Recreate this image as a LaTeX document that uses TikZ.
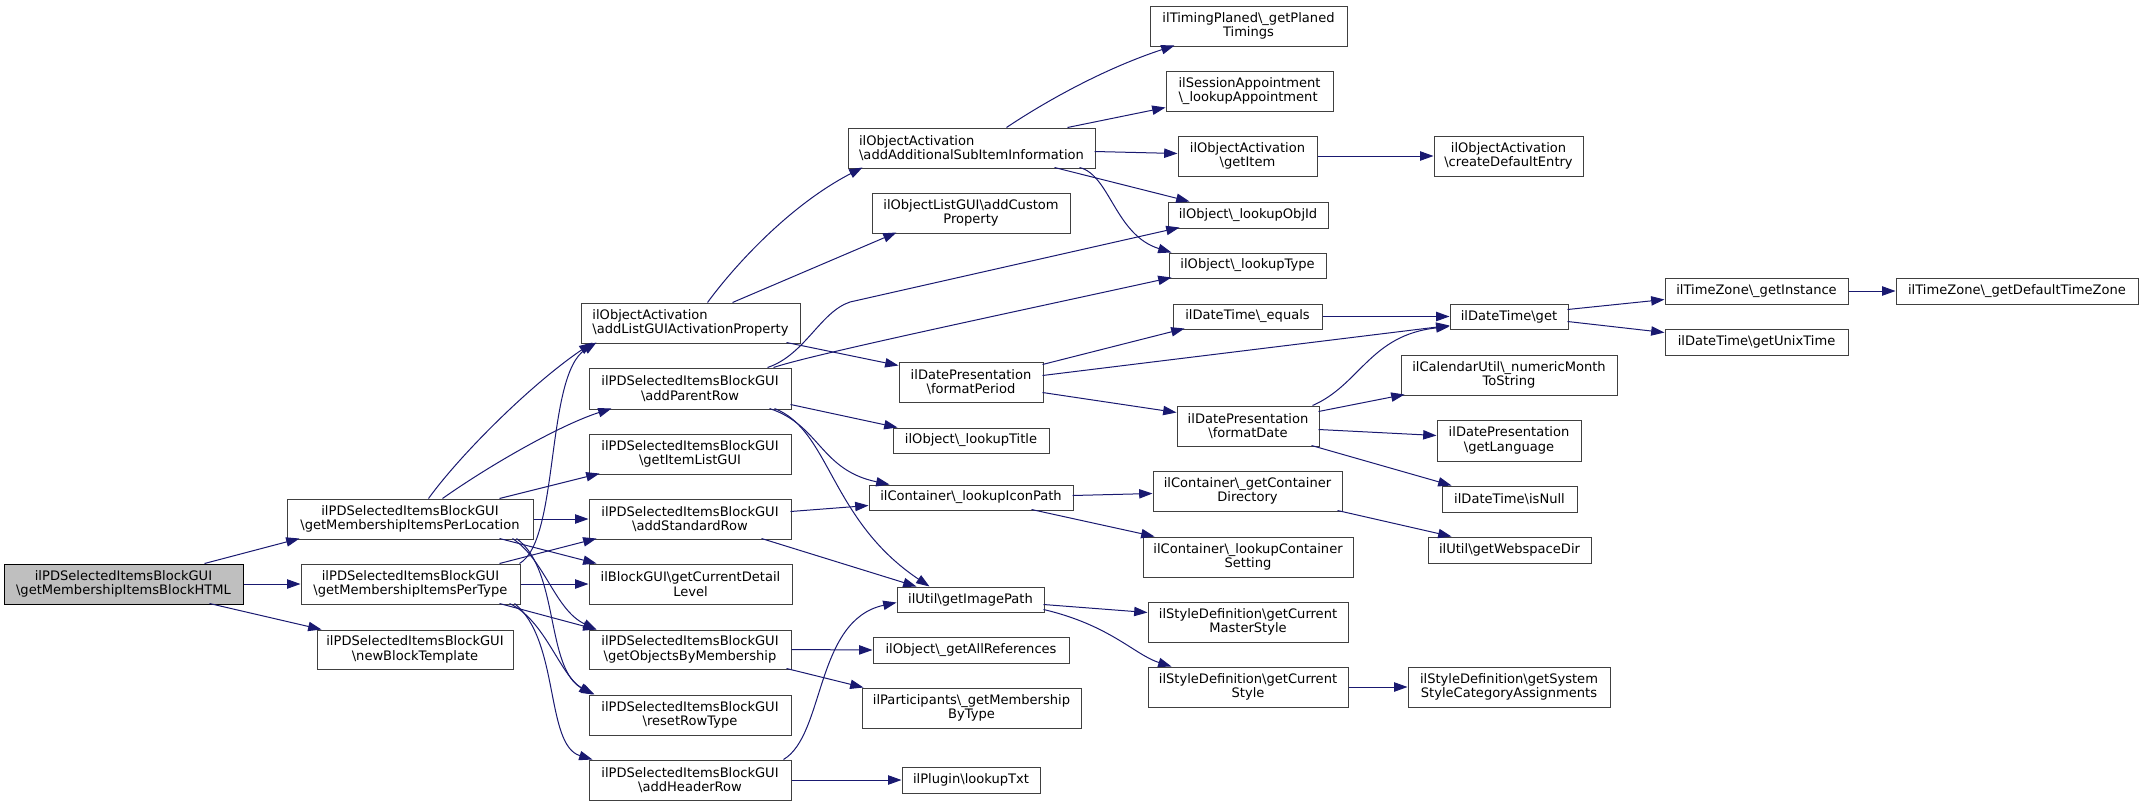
\documentclass[tikz,border=0pt]{standalone}
\usepackage{fontspec}
\setmainfont{DejaVu Sans}
\usetikzlibrary{arrows.meta,calc}
\definecolor{mblue}{HTML}{191970}
\definecolor{bord}{HTML}{404040}
\definecolor{rootfill}{HTML}{BFBFBF}
\newcommand{\bsl}{\textbackslash}
\newcommand{\bx}[7][]{\node[box,#1,minimum width={(#5-#3)*0.75pt},minimum height={(#6-#4)*0.75pt}] (#2) at ({(#3+#5)/2},{(#4+#6)/2}) {#7};}
\begin{document}
\begin{tikzpicture}[x=0.75pt,y=-0.75pt,
  box/.style={draw=bord,line width=0.75pt,inner sep=0pt,align=center,font=\fontsize{9.8}{10.8}\selectfont},
  lbox/.style={align=left},
  cl/.style={draw=mblue,line width=0.75pt,-{Triangle[length=10pt,width=7pt]}}]
\useasboundingbox (0,0) rectangle (2144,807);
% column 1
\bx[fill=rootfill,draw=black]{root}{4}{564}{243}{604}{ilPDSelectedItemsBlockGUI\\\bsl getMembershipItemsBlockHTML}
\bx{loc}{287}{499}{533}{539}{ilPDSelectedItemsBlockGUI\\\bsl getMembershipItemsPerLocation}
\bx{type}{301}{564}{520}{604}{ilPDSelectedItemsBlockGUI\\\bsl getMembershipItemsPerType}
\bx{nbt}{317}{630}{513}{669}{ilPDSelectedItemsBlockGUI\\\bsl newBlockTemplate}
% column 2
\bx[lbox]{alist}{581}{303}{800}{343}{ilObjectActivation\\\bsl addListGUIActivationProperty}
\bx{apr}{589}{368}{791}{409}{ilPDSelectedItemsBlockGUI\\\bsl addParentRow}
\bx{gil}{589}{434}{791}{474}{ilPDSelectedItemsBlockGUI\\\bsl getItemListGUI}
\bx{asr}{589}{499}{791}{539}{ilPDSelectedItemsBlockGUI\\\bsl addStandardRow}
\bx{gcd}{589}{564}{792}{604}{ilBlockGUI\bsl getCurrentDetail\\Level}
\bx{gobm}{589}{630}{791}{669}{ilPDSelectedItemsBlockGUI\\\bsl getObjectsByMembership}
\bx{rrt}{589}{695}{791}{735}{ilPDSelectedItemsBlockGUI\\\bsl resetRowType}
\bx{ahr}{589}{760}{791}{800}{ilPDSelectedItemsBlockGUI\\\bsl addHeaderRow}
% column 3
\bx[lbox]{aasi}{848}{128}{1095}{168}{ilObjectActivation\\\bsl addAdditionalSubItemInformation}
\bx{acp}{872}{193}{1070}{233}{ilObjectListGUI\bsl addCustom\\Property}
\bx{fp}{899}{362}{1043}{402}{ilDatePresentation\\\bsl formatPeriod}
\bx{ltitle}{893}{428}{1049}{453}{ilObject\bsl\_lookupTitle}
\bx{lip}{869}{485}{1073}{510}{ilContainer\bsl\_lookupIconPath}
\bx{gip}{897}{587}{1044}{612}{ilUtil\bsl getImagePath}
\bx{gar}{873}{637}{1069}{663}{ilObject\bsl\_getAllReferences}
\bx{gmbt}{862}{688}{1081}{728}{ilParticipants\bsl\_getMembership\\ByType}
\bx{ltxt}{902}{767}{1040}{793}{ilPlugin\bsl lookupTxt}
% column 4
\bx{tp}{1150}{6}{1347}{46}{ilTimingPlaned\bsl\_getPlaned\\Timings}
\bx[lbox]{sa}{1166}{71}{1333}{111}{ilSessionAppointment\\\bsl\_lookupAppointment}
\bx{gi}{1178}{136}{1317}{176}{ilObjectActivation\\\bsl getItem}
\bx{loid}{1168}{202}{1328}{228}{ilObject\bsl\_lookupObjId}
\bx{ltype}{1169}{253}{1326}{278}{ilObject\bsl\_lookupType}
\bx{eq}{1173}{304}{1322}{329}{ilDateTime\bsl\_equals}
\bx{fd}{1177}{406}{1319}{446}{ilDatePresentation\\\bsl formatDate}
\bx{gcdir}{1153}{471}{1342}{511}{ilContainer\bsl\_getContainer\\Directory}
\bx{lcs}{1143}{537}{1353}{577}{ilContainer\bsl\_lookupContainer\\Setting}
\bx{gcms}{1148}{602}{1348}{642}{ilStyleDefinition\bsl getCurrent\\MasterStyle}
\bx{gcs}{1148}{667}{1348}{707}{ilStyleDefinition\bsl getCurrent\\Style}
% column 5
\bx{cde}{1434}{136}{1583}{176}{ilObjectActivation\\\bsl createDefaultEntry}
\bx{dtget}{1450}{304}{1568}{329}{ilDateTime\bsl get}
\bx{nmts}{1401}{355}{1617}{395}{ilCalendarUtil\bsl\_numericMonth\\ToString}
\bx{glang}{1437}{420}{1581}{461}{ilDatePresentation\\\bsl getLanguage}
\bx{isnull}{1442}{486}{1577}{512}{ilDateTime\bsl isNull}
\bx{gwsd}{1428}{537}{1591}{563}{ilUtil\bsl getWebspaceDir}
\bx{gssca}{1408}{667}{1610}{707}{ilStyleDefinition\bsl getSystem\\StyleCategoryAssignments}
% column 6-7
\bx{ginst}{1665}{278}{1848}{304}{ilTimeZone\bsl\_getInstance}
\bx{gut}{1665}{329}{1848}{355}{ilDateTime\bsl getUnixTime}
\bx{gdtz}{1896}{278}{2138}{304}{ilTimeZone\bsl\_getDefaultTimeZone}
% edges from root
\draw[cl] ($(root.north west)+(201,0)$) -- ($(loc.north west)+(13,40)$);
\draw[cl] (root.east) -- (type.west);
\draw[cl] ($(root.north west)+(206,40)$) -- ($(nbt.north west)+(5,0)$);
% edges from loc
\draw[cl] ($(loc.north west)+(142,0)$) .. controls (460,455) and (530,385) .. ($(alist.north west)+(12,40)$);
\draw[cl] ($(loc.north west)+(156,0)$) .. controls (490,465) and (560,425) .. ($(apr.north west)+(23,41)$);
\draw[cl] ($(loc.north west)+(213,0)$) -- ($(gil.north west)+(11,40)$);
\draw[cl] (loc.east) -- (asr.west);
\draw[cl] ($(loc.north west)+(213,40)$) -- ($(gcd.north west)+(8,0)$);
\draw[cl] ($(loc.north west)+(226,40)$) .. controls (545,560) and (555,610) .. ($(gobm.north west)+(8,0)$);
\draw[cl] ($(loc.north west)+(230,40)$) .. controls (560,570) and (545,670) .. ($(rrt.north west)+(6,0)$);
% edges from type
\draw[cl] ($(type.north west)+(219,0)$) .. controls (560,540) and (545,375) .. ($(alist.north west)+(16,40)$);
\draw[cl] ($(type.north west)+(199,0)$) -- ($(asr.north west)+(8,40)$);
\draw[cl] (type.east) -- (gcd.west);
\draw[cl] ($(type.north west)+(199,40)$) -- ($(gobm.north west)+(8,0)$);
\draw[cl] ($(type.north west)+(209,40)$) .. controls (545,620) and (560,675) .. ($(rrt.north west)+(4,0)$);
\draw[cl] ($(type.north west)+(214,40)$) .. controls (560,640) and (545,745) .. ($(ahr.north west)+(4,0)$);
% edges from alist
\draw[cl] ($(alist.north west)+(127,0)$) .. controls (735,265) and (790,205) .. ($(aasi.north west)+(15,40)$);
\draw[cl] ($(alist.north west)+(152,0)$) -- ($(acp.north west)+(25,40)$);
\draw[cl] ($(alist.north west)+(206,40)$) -- ($(fp.north west)+(0,4)$);
% edges from apr
\draw[cl] ($(apr.north west)+(179,0)$) .. controls (805,355) and (820,312) .. (850,302) -- ($(loid.north west)+(12,26)$);
\draw[cl] ($(apr.north west)+(185,0)$) .. controls (810,355) and (1000,315) .. ($(ltype.north west)+(3,25)$);
\draw[cl] ($(apr.north west)+(202,37)$) -- ($(ltitle.north west)+(5,0)$);
\draw[cl] ($(apr.north west)+(181,41)$) .. controls (820,425) and (820,470) .. ($(lip.north west)+(21,0)$);
\draw[cl] ($(apr.north west)+(186,41)$) .. controls (830,430) and (830,520) .. ($(gip.north west)+(33,0)$);
% edges from asr
\draw[cl] ($(asr.north west)+(202,13)$) -- ($(lip.north west)+(0,21)$);
\draw[cl] ($(asr.north west)+(173,40)$) -- ($(gip.north west)+(20,0)$);
% edges from gobm, ahr
\draw[cl] (gobm.east) -- (gar.west);
\draw[cl] ($(gobm.north west)+(198,39)$) -- ($(gmbt.north west)+(2,0)$);
\draw[cl] ($(ahr.north west)+(195,0)$) .. controls (825,735) and (815,620) .. ($(gip.north west)+(0,16)$);
\draw[cl] (ahr.east) -- (ltxt.west);
% edges from aasi
\draw[cl] ($(aasi.north west)+(159,0)$) .. controls (1040,105) and (1100,70) .. ($(tp.north west)+(25,40)$);
\draw[cl] ($(aasi.north west)+(220,0)$) -- ($(sa.north west)+(0,37)$);
\draw[cl] ($(aasi.north west)+(247,24)$) -- ($(gi.north west)+(0,18)$);
\draw[cl] ($(aasi.north west)+(207,40)$) -- ($(loid.north west)+(22,0)$);
\draw[cl] ($(aasi.north west)+(232,40)$) .. controls (1110,175) and (1115,235) .. ($(ltype.north west)+(3,0)$);
\draw[cl] (gi.east) -- (cde.west);
% edges from fp, eq, fd
\draw[cl] ($(fp.north west)+(144,3)$) -- ($(eq.north west)+(12,25)$);
\draw[cl] ($(fp.north west)+(144,14)$) -- ($(dtget.north west)+(0,22)$);
\draw[cl] ($(fp.north west)+(144,31)$) -- ($(fd.north west)+(0,7)$);
\draw[cl] (eq.east) -- (dtget.west);
\draw[cl] ($(fd.north west)+(136,0)$) .. controls (1360,385) and (1370,335) .. ($(dtget.north west)+(0,23)$);
\draw[cl] ($(fd.north west)+(142,6)$) -- ($(nmts.north west)+(4,40)$);
\draw[cl] ($(fd.north west)+(142,24)$) -- ($(glang.north west)+(0,16)$);
\draw[cl] ($(fd.north west)+(135,40)$) -- ($(isnull.north west)+(10,0)$);
% edges from dtget, ginst
\draw[cl] ($(dtget.north west)+(118,6)$) -- ($(ginst.north west)+(0,22)$);
\draw[cl] ($(dtget.north west)+(118,18)$) -- ($(gut.north west)+(0,4)$);
\draw[cl] (ginst.east) -- (gdtz.west);
% edges from lip, gcdir
\draw[cl] ($(lip.north west)+(204,11)$) -- ($(gcdir.north west)+(0,23)$);
\draw[cl] ($(lip.north west)+(163,25)$) -- ($(lcs.north west)+(12,0)$);
\draw[cl] ($(gcdir.north west)+(185,40)$) -- ($(gwsd.north west)+(24,0)$);
% edges from gip, gcs
\draw[cl] ($(gip.north west)+(147,18)$) -- ($(gcms.north west)+(0,11)$);
\draw[cl] ($(gip.north west)+(147,23)$) .. controls (1110,625) and (1135,655) .. ($(gcs.north west)+(24,0)$);
\draw[cl] (gcs.east) -- (gssca.west);
\end{tikzpicture}
\end{document}
